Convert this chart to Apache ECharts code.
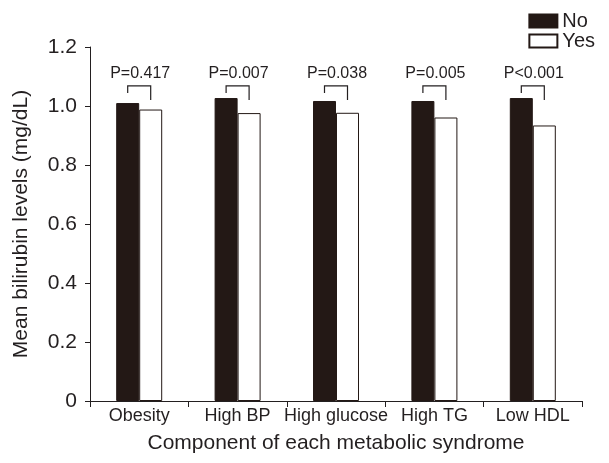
<!DOCTYPE html>
<html><head><meta charset="utf-8">
<script src="https://cdn.jsdelivr.net/npm/echarts@6/dist/echarts.min.js"></script>
<style>html,body{margin:0;padding:0;background:#fff}#c{width:609px;height:463px}</style>
</head><body><div id="c"></div>
<script>
var categories = ['Obesity', 'High BP', 'High glucose', 'High TG', 'Low HDL'];
var noValues = [1.01, 1.027, 1.017, 1.017, 1.027];
var yesValues = [0.988, 0.976, 0.977, 0.961, 0.934];
var pLabels = ['P=0.417', 'P=0.007', 'P=0.038', 'P=0.005', 'P<0.001'];
var yTicks = [0, 0.2, 0.4, 0.6, 0.8, 1.0, 1.2];

var txt = '#231f20';
var dark = '#231815';
var ff = 'Liberation Sans, Arial, sans-serif';
var chart = echarts.init(document.getElementById('c'));
var bracketData = categories.map(function (c, i) { return [i, 1.068]; });

chart.setOption({
  animation: false,
  textStyle: { fontFamily: ff, color: txt },
  legend: {
    orient: 'vertical', right: 9, top: 6, itemWidth: 28, itemHeight: 13, itemGap: 0,
    textStyle: { fontSize: 20, color: txt, padding: [0, 0, 0, 0] },
    data: [{ name: 'No', icon: 'rect' }, { name: 'Yes', icon: 'rect' }]
  },
  grid: { left: 90, right: 27, top: 47, bottom: 62 },
  xAxis: {
    type: 'category', data: categories,
    name: 'Component of each metabolic syndrome', nameLocation: 'middle', nameGap: 32,
    nameTextStyle: { fontSize: 21, color: txt },
    axisLine: { lineStyle: { color: txt, width: 1 } },
    axisTick: { show: true, length: 6, lineStyle: { color: txt } },
    axisLabel: { fontSize: 18, color: txt, margin: 6, interval: 0 }
  },
  yAxis: {
    type: 'value', min: 0, max: 1.2, interval: 0.2,
    name: 'Mean bilirubin levels (mg/dL)', nameLocation: 'middle', nameGap: 58,
    nameTextStyle: { fontSize: 21, color: txt },
    axisLine: { show: true, lineStyle: { color: txt, width: 1 } },
    axisTick: { show: true, length: 5, lineStyle: { color: txt } },
    splitLine: { show: false },
    axisLabel: {
      fontSize: 21, color: txt, margin: 13,
      formatter: function (v) { return v === 0 ? '0' : v.toFixed(1); }
    }
  },
  series: [
    { name: 'No', type: 'bar', data: noValues, barWidth: 23, barGap: '0%',
      itemStyle: { color: dark, borderColor: dark, borderWidth: 1 } },
    { name: 'Yes', type: 'bar', data: yesValues, barWidth: 23,
      itemStyle: { color: '#fff', borderColor: dark, borderWidth: 1 } },
    { name: 'bracket', type: 'custom', data: bracketData, silent: true, z: 5,
      renderItem: function (params, api) {
        var i = api.value(0);
        var p = api.coord([i, api.value(1)]);
        var xl = p[0] - 11.5, xr = p[0] + 11.5;
        var yt = p[1];
        return {
          type: 'group',
          children: [
            { type: 'polyline', shape: { points: [[xl, yt + 7], [xl, yt], [xr, yt], [xr, yt + 14]] },
              style: { stroke: txt, lineWidth: 1.2, fill: null } },
            { type: 'text', x: p[0] + 1, y: yt - 4,
              style: { text: pLabels[params.dataIndex], fill: txt, fontSize: 16,
                fontFamily: ff, align: 'center', verticalAlign: 'bottom' } }
          ]
        };
      }
    }
  ]
});
</script></body></html>
